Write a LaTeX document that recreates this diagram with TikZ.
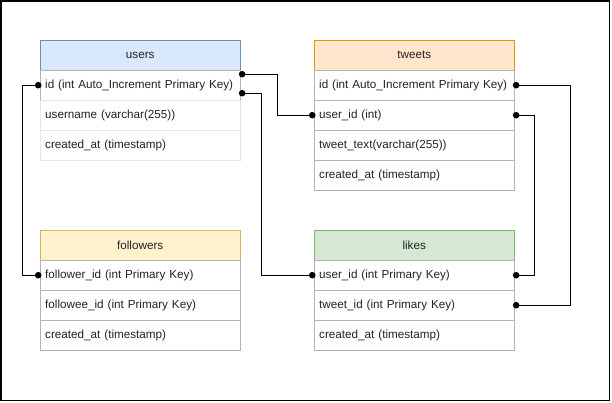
\documentclass[tikz,border=0pt]{standalone}
\usepackage{fontspec}
\setmainfont{Liberation Sans}
\usepackage{tikz}
\usetikzlibrary{arrows.meta}
\definecolor{ubg}{HTML}{DAE8FC}\definecolor{ubd}{HTML}{6C8EBF}
\definecolor{tbg}{HTML}{FFE6CC}\definecolor{tbd}{HTML}{D79B00}
\definecolor{fbg}{HTML}{FFF2CC}\definecolor{fbd}{HTML}{D6B656}
\definecolor{lbg}{HTML}{D5E8D4}\definecolor{lbd}{HTML}{82B366}
\definecolor{rowline}{HTML}{B3B3B3}
\definecolor{rowpale}{HTML}{E6E6E6}
\definecolor{txt}{HTML}{222222}
\tikzset{hdr/.style={draw, anchor=north west, minimum width=200pt, minimum height=30pt,
  text=txt, font=\fontsize{11.7}{14}\selectfont}}
\tikzset{fld/.style={draw=rowline, anchor=north west, minimum width=200pt, minimum height=30pt,
  text width=190pt, inner xsep=5pt, align=left, text=txt, font=\fontsize{11.7}{14}\selectfont}}
\tikzset{link/.style={line width=1pt, shorten <=-1.5pt, shorten >=-1.5pt,
  {Circle[length=6.5pt]}-{Circle[length=6.5pt]}}}

\begin{document}
\begin{tikzpicture}[x=1pt,y=-1pt]
            \useasboundingbox (0,0) rectangle (612,402);
            \draw[line width=1.5pt] (1,0.75) rectangle (609.5,400.25);
            % users
            \node[hdr, draw=ubd, fill=ubg] (users) at (40,40) {users};
            \node[fld] (uid) at (40,70) {id (int Auto\_Increment Primary Key)};
            \node[fld, draw=rowpale] (uname) at (40,100) {username (varchar(255))};
            \node[fld, draw=rowpale] (ucreated) at (40,130) {created\_at (timestamp)};
            % tweets
            \node[hdr, draw=tbd, fill=tbg] (tweets) at (314,40) {tweets};
            \node[fld] (tid) at (314,70) {id (int Auto\_Increment Primary Key)};
            \node[fld] (tuid) at (314,100) {user\_id (int)};
            \node[fld] (ttext) at (314,130) {tweet\_text(varchar(255))};
            \node[fld] (tcreated) at (314,160) {created\_at (timestamp)};
            % followers
            \node[hdr, draw=fbd, fill=fbg] (followers) at (40,230) {followers};
            \node[fld] (ffollower) at (40,260) {follower\_id (int Primary Key)};
            \node[fld] (ffollowee) at (40,290) {followee\_id (int Primary Key)};
            \node[fld] (fcreated) at (40,320) {created\_at (timestamp)};
            % likes
            \node[hdr, draw=lbd, fill=lbg] (likes) at (314,230) {likes};
            \node[fld] (luid) at (314,260) {user\_id (int Primary Key)};
            \node[fld] (ltid) at (314,290) {tweet\_id (int Primary Key)};
            \node[fld] (lcreated) at (314,320) {created\_at (timestamp)};
            % relations
            \draw[link] ([yshift=11pt]uid.east) -- ++(37,0) |- (tuid.west);
            \draw[link] ([yshift=-8pt]uid.east) -- ++(21,0) |- (luid.west);
            \draw[link] (uid.west) -- ++(-18,0) |- (ffollower.west);
            \draw[link] (tid.east) -- ++(56,0) |- (ltid.east);
            \draw[link] (tuid.east) -- ++(20,0) |- (luid.east);
          \end{tikzpicture}
\end{document}
